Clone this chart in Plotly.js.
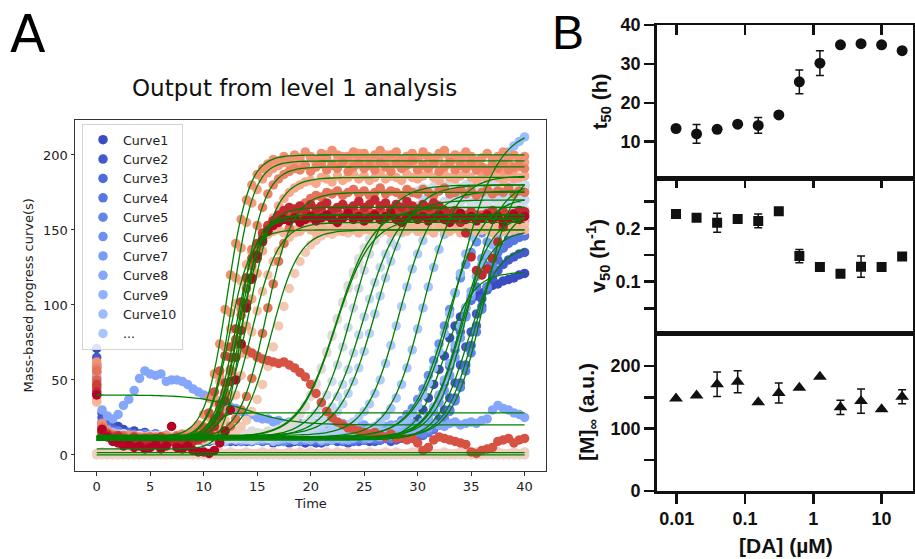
<!DOCTYPE html>
<html><head><meta charset="utf-8">
<script src="https://cdn.plot.ly/plotly-3.0.1.min.js"></script>
<style>html,body{margin:0;padding:0;background:#fff;} #chart{width:915px;height:559px;}</style>
</head><body><div id="chart"></div>
<script>
// ---------- Panel A data: observed progress curves (time in h) ----------
const timeH = [0,0.5,1,1.5,2,2.5,3,3.5,4,4.5,5,5.5,6,6.5,7,7.5,8,8.5,9,9.5,10,10.5,11,11.5,12,12.5,13,13.5,14,14.5,15,15.5,16,16.5,17,17.5,18,18.5,19,19.5,20,20.5,21,21.5,22,22.5,23,23.5,24,24.5,25,25.5,26,26.5,27,27.5,28,28.5,29,29.5,30,30.5,31,31.5,32,32.5,33,33.5,34,34.5,35,35.5,36,36.5,37,37.5,38,38.5,39,39.5,40];

const curve01 = [71,28,24,20,19,17,15,16,14,15, 13,14,12,13,12,11,13,12,11,12, 10,11,12,10,11,9,10,11,9,10, 11,9,10,8,9,10,8,9,10,8, 9,10,8,9,11,9,10,8,9,11, 10,9,11,10,12,13,12,15,17,20, 24,30,38,47,57,66,78,86,92,98, 104,106,108,111,113,114,116,117,118,120, 121];
const curve02 = [65,25,21,18,16,15,14,13,14,12, 13,11,12,13,11,12,10,11,12,10, 11,9,10,12,10,11,9,10,11,9, 10,12,10,9,11,10,8,10,9,11, 10,8,9,10,11,9,10,8,10,9, 11,10,9,10,11,9,10,12,11,13, 12,14,16,19,24,30,38,48,60,72, 82,94,104,112,118,123,127,130,132,134, 135];
const curve03 = [60,22,19,17,15,14,15,13,12,14, 12,13,11,12,10,11,13,12,10,11, 12,10,11,9,12,10,11,10,12,9, 11,10,12,11,9,10,11,12,10,11, 9,11,10,12,10,11,9,12,11,10, 12,11,10,12,11,13,12,11,13,12, 14,13,15,17,20,24,30,38,48,60, 73,86,99,110,121,130,138,144,149,153, 156];
const curve04 = [58,20,18,16,14,13,12,14,11,12, 13,11,10,12,11,9,10,12,11,10, 9,11,10,12,9,10,11,9,10,12, 10,9,11,10,12,9,11,10,9,10, 12,10,11,9,10,11,13,10,9,11, 10,12,11,10,13,12,14,13,15,16, 18,21,25,31,39,48,59,70,82,93, 103,112,120,126,131,135,138,141,143,145, 146];
const curve05 = [55,21,17,15,16,13,14,12,13,11, 12,14,11,13,10,12,11,13,10,12, 11,10,12,13,11,10,12,9,11,10, 12,11,10,9,11,12,10,11,13,10, 11,12,9,10,12,11,10,13,12,11, 10,12,11,13,12,11,12,14,13,12, 15,14,16,18,20,24,29,36,45,56, 68,82,97,112,126,139,150,160,168,175, 180];
const curve06 = [52,19,16,15,14,12,13,11,12,14, 11,12,10,13,11,12,10,11,13,12, 10,11,12,9,11,13,10,12,11,9, 10,12,11,13,10,9,11,12,10,11, 13,11,12,10,11,12,14,11,13,12, 14,13,15,14,16,18,20,23,27,31, 37,44,53,63,74,86,97,108,118,127, 135,142,148,153,157,160,163,165,167,168, 170];
const curve07 = [50,18,17,15,13,14,12,13,11,12, 10,12,11,13,12,10,11,12,10,13, 11,12,10,11,12,13,11,10,12,11, 13,10,12,11,10,12,11,13,12,10, 11,12,10,13,11,12,10,11,12,13, 11,12,14,13,12,14,13,15,17,16, 19,21,24,29,35,43,53,65,78,92, 106,119,131,142,151,159,165,170,174,177, 179];
const curve08 = [40,30,26,24,27,33,37,43,51,56, 54,53,54,49,50,50,49,47,44,42, 40,39,37,36,34,32,31,29,28,27, 25,24,24,22,23,21,22,20,21,20, 19,21,20,18,20,19,21,20,18,19, 20,18,19,21,19,20,18,19,20,21, 19,20,18,21,20,19,21,22,20,21, 22,21,23,24,30,33,31,30,28,27, 25];
const curve09 = [48,17,15,14,13,12,13,11,12,10, 12,11,13,10,11,12,10,11,9,12, 10,11,12,10,9,11,12,10,11,13, 10,12,11,9,10,12,11,10,12,11, 10,12,11,13,10,11,12,10,11,13, 12,11,13,12,14,13,12,15,14,17, 19,22,26,32,40,50,61,73,86,98, 109,119,127,134,140,145,149,152,155,157, 158];
const curve10 = [46,18,16,15,13,14,12,11,13,12, 10,11,13,12,10,11,12,13,11,10, 12,11,10,12,13,11,10,12,11,10, 12,13,11,10,12,11,13,10,12,11, 13,12,10,11,13,12,11,14,12,13, 15,14,13,16,15,17,19,21,24,28, 33,40,48,58,69,81,94,108,121,134, 146,157,167,176,184,191,197,202,206,209, 212];
const curve11 = [44,17,15,13,14,12,11,13,12,10, 11,12,10,13,11,12,10,11,12,10, 13,11,12,10,11,13,12,11,10,12, 11,13,12,10,11,12,13,11,12,14, 12,13,11,14,13,12,15,14,13,16, 15,17,19,22,26,31,38,47,58,70, 84,98,112,125,137,147,156,163,169,173, 176,178,180,181,183,182,184,183,185,184, 186];
const curve12 = [42,16,14,13,12,13,11,12,10,11, 13,12,11,10,12,11,13,10,12,11, 10,12,11,13,10,12,11,12,13,11, 12,11,13,12,14,13,12,15,14,13, 15,14,16,15,17,16,18,20,22,25, 29,34,41,50,61,73,86,99,112,124, 134,143,151,157,162,166,169,171,173,174, 175,173,176,174,175,177,174,176,175,177, 176];
const curve13 = [40,15,14,12,13,11,12,10,12,11, 13,10,11,12,10,13,11,12,10,11, 12,13,11,12,10,11,13,12,11,13, 12,14,13,12,15,14,13,16,15,17, 16,18,20,22,25,29,34,41,49,58, 69,81,94,106,118,129,139,148,155,161, 166,170,172,175,176,178,177,179,178,180, 179,181,178,180,182,179,181,180,182,181, 180];
const curve14 = [42,16,13,12,11,12,10,11,13,12, 10,11,12,13,11,10,12,11,13,12, 11,13,12,10,11,12,13,11,12,10, 12,13,11,13,12,14,13,15,14,16, 18,20,23,27,32,39,47,57,68,80, 92,104,115,125,134,142,149,154,158,161, 163,165,166,168,167,169,168,170,169,171, 168,170,172,169,171,170,168,171,170,172, 170];
const curve15 = [45,17,14,13,12,11,13,12,10,11, 12,11,13,10,12,11,10,12,13,11, 12,10,11,13,12,11,13,12,14,13, 12,14,13,15,14,16,15,17,19,21, 24,28,33,40,49,60,72,85,98,111, 123,134,143,151,158,163,167,170,173,175, 176,178,177,179,178,180,179,181,178,180, 182,179,181,180,182,179,181,180,178,181, 180];
const curve16 = [47,18,15,13,12,14,11,12,13,10, 11,12,10,13,11,12,10,11,12,13, 11,12,13,11,14,12,13,15,14,16, 15,14,16,15,17,19,21,24,28,33, 40,48,58,69,80,91,102,113,122,131, 138,144,149,153,156,159,161,162,164,163, 165,164,166,163,165,167,164,166,165,163, 166,164,165,167,164,166,165,163,166,165, 164];
const curve17 = [50,19,15,14,12,13,11,12,10,12, 11,13,12,10,11,12,13,11,10,12, 13,11,12,14,12,13,11,14,13,15, 14,13,15,14,16,18,20,23,27,32, 39,47,57,68,79,90,101,111,120,128, 135,140,144,148,150,152,154,155,157,156, 158,157,159,156,158,157,159,158,156,159, 157,158,160,157,159,158,156,159,157,158, 158];
const curve18 = [0,0,0,0,0,0,0,0,0,0, 0,0,0,0,0,0,0,0,0,0, 0,0,0,0,0,0,0,0,0,0, 0,0,0,0,0,0,0,0,0,0, 0,0,0,0,0,0,0,0,0,0, 0,0,0,0,0,0,0,0,0,0, 0,0,0,0,0,0,0,0,0,0, 0,0,0,0,0,0,0,0,0,0, 0];
const curve19 = [1,2,1,1,2,1,2,1,1,2, 1,1,2,1,2,1,1,2,1,2, 2,1,1,2,1,2,1,1,2,1, 1,2,1,2,1,1,2,1,2,1, 2,1,1,2,1,2,1,2,1,1, 1,2,1,1,2,1,2,1,1,2, 2,1,2,1,1,2,1,1,2,1, 1,2,1,2,1,2,1,1,2,1, 2];
const curve20 = [35,16,13,12,10,11,9,10,12,9, 10,11,9,12,10,11,9,10,11,12, 10,12,11,13,12,14,16,19,23,29, 37,47,59,72,86,99,111,121,129,135, 140,143,146,148,147,149,150,148,151,149, 150,152,149,151,150,148,152,150,149,151, 150,148,151,149,152,150,149,151,150,148, 151,149,150,152,148,150,151,149,150,152, 150];
const curve21 = [38,17,14,12,11,10,12,9,11,10, 9,11,10,12,9,10,11,9,12,10, 11,13,15,18,23,30,40,53,67,82, 96,109,120,129,136,141,145,148,150,152, 153,151,155,152,154,156,153,155,152,154, 156,153,155,154,152,156,154,153,155,157, 154,156,153,155,157,154,152,155,156,153, 155,157,154,156,153,155,157,154,156,155, 154];
const curve22 = [36,15,12,11,10,9,11,10,8,10, 9,11,10,8,9,11,10,12,11,14, 18,25,35,49,66,84,101,116,127,135, 141,145,147,149,150,148,151,150,149,152, 150,148,151,149,150,152,149,151,150,148, 151,150,149,152,150,148,151,149,150,152, 149,151,150,148,152,150,149,151,148,150, 152,149,151,150,148,151,149,152,150,151, 150];
const curve23 = [55,18,14,12,11,10,12,9,11,10, 12,9,10,11,9,12,10,11,9,10, 12,14,17,22,29,39,52,68,86,104, 121,136,148,158,166,171,175,178,180,182, 183,181,185,184,182,186,183,185,187,184, 186,183,185,188,184,186,185,183,187,185, 184,186,188,185,183,187,185,184,186,188, 185,183,186,184,187,185,183,186,184,185, 186];
const curve24 = [60,20,15,13,12,11,10,12,9,11, 10,12,9,11,10,12,11,13,12,15, 19,26,37,52,72,95,118,138,155,168, 177,184,188,191,193,195,194,197,196,193, 198,195,197,200,194,196,199,195,197,201, 196,198,194,197,200,195,198,196,199,194, 197,200,195,198,196,201,194,197,199,196, 193,190,188,191,195,192,189,194,190,192, 195];
const curve25 = [62,21,16,14,12,11,13,10,12,11, 10,12,11,13,10,12,14,13,16,20, 27,38,54,74,97,120,141,157,170,180, 187,191,194,197,196,199,197,200,198,202, 199,197,201,198,203,200,197,199,202,198, 201,197,200,203,198,200,202,197,199,201, 198,202,199,197,201,203,198,200,197,202, 199,196,198,201,197,199,202,198,200,197, 199];
const curve26 = [58,19,15,13,12,10,11,13,10,12, 11,9,12,10,11,13,10,12,11,13, 15,18,23,31,42,57,76,97,118,137, 153,165,174,180,184,187,189,191,190,193, 189,192,194,190,193,191,195,189,192,194, 191,193,190,195,192,189,194,191,193,196, 190,193,191,194,189,192,195,190,193,191, 194,190,192,189,193,191,194,190,192,193, 191];
const curve27 = [56,18,14,12,11,13,10,12,11,9, 11,10,12,9,11,10,12,11,10,12, 11,13,12,14,16,19,24,30,39,51, 65,81,98,114,129,141,151,158,164,168, 171,173,172,175,174,176,173,175,177,174, 176,173,175,178,174,176,175,173,177,175, 174,177,175,173,176,178,174,175,177,174, 176,173,175,177,174,176,175,178,174,176, 175];
const curve28 = [50,17,14,13,11,12,10,9,11,10, 12,10,9,11,10,8,11,9,10,12, 14,17,22,30,41,56,74,93,111,126, 138,146,152,156,158,160,159,161,158,162, 160,157,161,159,162,158,160,163,159,161, 158,162,160,157,161,159,163,160,158,161, 159,162,158,161,160,163,159,157,161,160, 162,158,160,161,157,160,162,159,161,158, 160];
const curve29 = [45,16,13,12,11,10,9,11,10,8, 10,9,11,8,10,12,9,10,11,13, 18,28,42,56,66,72,77,74,70,68, 66,64,63,62,61,62,60,58,55,52, 47,41,35,29,25,22,20,18,17,16, 15,14,15,13,12,14,11,12,10,11, 8,3,5,10,12,11,10,9,8,7, 2,1,3,4,5,9,10,11,8,10, 11];
const curve30 = [47,17,14,12,13,11,10,12,9,11, 10,8,12,9,11,10,8,9,11,10, 13,17,24,34,48,65,84,102,118,131, 141,148,153,156,158,160,157,161,159,162, 158,161,163,159,160,162,158,161,163,160, 162,159,161,164,158,160,162,159,163,161, 160,163,159,161,158,162,160,163,161,159, 162,160,158,161,163,159,162,160,158,161, 162];
const curve31 = [42,15,13,11,12,10,9,11,8,10, 9,11,8,10,9,7,10,8,9,11, 12,15,19,26,36,49,65,83,101,117, 131,142,150,156,160,163,165,164,166,163, 167,164,166,168,163,165,167,164,166,169, 165,167,170,166,168,164,167,165,169,166, 164,167,165,168,166,163,161,158,155,148, 132,123,120,124,131,142,152,158,161,163, 162];
const curve32 = [40,17,12,9,8,6,7,5,6,4, 5,7,4,6,19,5,4,6,3,2, 2,1,3,8,16,30,50,74,98,118, 133,143,149,153,155,157,156,158,155,157, 159,156,158,160,157,155,158,161,157,159, 156,158,160,157,159,161,157,155,158,160, 157,159,156,158,160,157,155,158,161,157, 159,156,158,160,157,159,155,158,160,157, 159];

const curveNames = ['Curve1','Curve2','Curve3','Curve4','Curve5','Curve6','Curve7','Curve8','Curve9','Curve10','...'];

// level-1 sigmoid fit parameters
const fitBase = [10,10,11,11,12,12,12,40,12,12,12,13,13,12,12,12,12,0,1.5,10,10,10,10,11,12,11,11,10,10,10,10,4];
const fitTop  = [122,140,165,150,192,172,182,20,160,218,186,176,180,170,180,165,158,0,1.5,150,155,150,185,196,200,192,175,160,28,160,165,157];
const fitT50  = [32.5,34.65,35.5,33.9,36.2,32.8,34.7,14.0,34.0,33.8,30.5,28.3,26.1,24.95,23.9,22.4,22.3,20,20,16.3,14.5,12.4,14.3,12.7,12.2,13.6,15.85,13.3,11.0,13.0,13.6,13.5];
const fitRate = [0.75,0.7,0.7,0.7,0.7,0.6,0.7,0.45,0.7,0.55,0.65,0.65,0.6,0.6,0.62,0.58,0.6,1,1,0.77,0.8,1.0,0.8,1.0,0.98,0.93,0.8,0.99,2.0,0.99,0.93,1.25];

// ---------- Panel B data ----------
const daConc = [0.009765625,0.01953125,0.0390625,0.078125,0.15625,0.3125,0.625,1.25,2.5,5,10,20];
const t50Vals = [13.4,12.0,13.2,14.5,14.2,16.9,25.4,30.2,34.9,35.2,34.9,33.4];
const t50Err  = [null,2.4,null,null,2.05,null,3.05,3.2,null,null,null,null];
const v50Vals = [0.227,0.220,0.2105,0.2175,0.214,0.232,0.148,0.1275,0.115,0.128,0.1275,0.147];
const v50Err  = [null,null,0.018,null,0.0128,null,0.0125,null,null,0.02,0.006,null];
const mInfVals = [148.3,153,171,175,142,157,165.3,183,134,144,131,151];
const mInfErr  = [null,null,19.5,17.6,null,16,null,null,11.5,19.5,null,11.2];

// ---------- styling ----------
const curves = [curve01,curve02,curve03,curve04,curve05,curve06,curve07,curve08,curve09,curve10,curve11,curve12,curve13,curve14,curve15,curve16,curve17,curve18,curve19,curve20,curve21,curve22,curve23,curve24,curve25,curve26,curve27,curve28,curve29,curve30,curve31,curve32];
const coolwarmStops = [[59,76,192],[68,90,204],[77,104,215],[87,117,225],[98,130,234],[108,142,241],[119,154,247],[130,165,251],[141,176,254],[152,185,255],[163,194,255],[174,201,253],[184,208,249],[194,213,244],[204,217,238],[213,219,230],[221,221,221],[229,216,209],[236,211,197],[241,204,184],[245,196,172],[247,187,160],[247,177,148],[247,166,137],[244,154,123],[241,141,112],[236,127,99],[229,112,88],[222,96,77],[213,80,66],[203,62,56],[192,40,47],[180,4,38]];
function coolwarm(p){
  const n = coolwarmStops.length - 1, x = p*n;
  const i = Math.min(Math.floor(x), n-1), f = x - i;
  const a = coolwarmStops[i], b = coolwarmStops[i+1];
  return 'rgb(' + [0,1,2].map(j => Math.round(a[j] + (b[j]-a[j])*f)).join(',') + ')';
}
const W = 915, H = 559;
const px = x => x / W, py = y => 1 - y / H;
const sigmoid = (t, i) => fitBase[i] + (fitTop[i] - fitBase[i]) / (1 + Math.exp(-fitRate[i] * (t - fitT50[i])));

const traces = [];
curves.forEach((c, i) => {
  const named = i < curveNames.length;
  const tr = {
    type: 'scatter', mode: 'markers', x: timeH, y: c, xaxis: 'x', yaxis: 'y',
    marker: {color: coolwarm(i / (curves.length - 1)), size: 9.5, line: {width: 0}},
    showlegend: named, hoverinfo: 'skip'
  };
  if (named) tr.name = curveNames[i];
  traces.push(tr);
});
curves.forEach((c, i) => {
  traces.push({
    type: 'scatter', mode: 'lines', x: timeH, y: timeH.map(t => sigmoid(t, i)),
    xaxis: 'x', yaxis: 'y', line: {color: '#008000', width: 1.3, shape: 'spline'},
    showlegend: false, hoverinfo: 'skip'
  });
});
const errStyle = {type: 'data', visible: true, color: '#111', thickness: 1.5, width: 4};
traces.push({type:'scatter', mode:'markers', x: daConc, y: t50Vals, xaxis:'x2', yaxis:'y2',
  error_y: Object.assign({array: t50Err}, errStyle), marker:{symbol:'circle', size:11, color:'#111'}, showlegend:false});
traces.push({type:'scatter', mode:'markers', x: daConc, y: v50Vals, xaxis:'x3', yaxis:'y3',
  error_y: Object.assign({array: v50Err}, errStyle), marker:{symbol:'square', size:10, color:'#111'}, showlegend:false});
traces.push({type:'scatter', mode:'markers', x: daConc, y: mInfVals, xaxis:'x4', yaxis:'y4',
  error_y: Object.assign({array: mInfErr}, errStyle), marker:{symbol:'triangle-up', size:12, color:'#111'}, showlegend:false});

const fontA = {family: 'DejaVu Sans', size: 13, color: '#222'};
const axA = {showline: true, linecolor: '#333', linewidth: 1, mirror: true, ticks: 'outside', ticklen: 3.5,
  tickwidth: 1, tickcolor: '#333', showgrid: false, zeroline: false, tickfont: fontA};
const bFont = {family: 'Liberation Sans, Arial, sans-serif', size: 18, color: '#111', weight: 700};
const bX = {type: 'log', domain: [px(656.7), px(913)], range: [-2.293, 1.46], tickvals: [0.01, 0.1, 1, 10],
  ticktext: ['0.01','0.1','1','10'], showgrid: false, zeroline: false, ticklen: 10, tickwidth: 2.5,
  tickcolor: '#111', linecolor: '#111', linewidth: 2.5, tickfont: bFont};
const bY = {showgrid: false, zeroline: false, ticklen: 10, tickwidth: 2.5, tickcolor: '#111',
  linecolor: '#111', linewidth: 2.5, tickfont: bFont};
const minorOut = v => ({tickvals: v, ticks: 'outside', ticklen: 10, tickwidth: 2.5, tickcolor: '#111', showgrid: false});
const dTop = [py(178.3), py(25)], dMid = [py(333.3), py(178.3)], dBot = [py(491), py(333.3)];
const rTop = [0.6, 40], rMid = [0.003, 0.294], rBot = [0, 252.5];
const tvTop = [10,20,30,40], tvMid = [0.05,0.1,0.15,0.2,0.25], tvBot = [0,50,100,150,200];

const layout = {
  width: W, height: H, margin: {l: 0, r: 0, t: 0, b: 0}, paper_bgcolor: '#fff', plot_bgcolor: 'rgba(0,0,0,0)',
  showlegend: true, hovermode: false,
  legend: {x: px(82), y: py(124), xanchor: 'left', yanchor: 'top', bgcolor: 'rgba(255,255,255,0.85)',
    bordercolor: '#d4d4d4', borderwidth: 1, font: {family: 'DejaVu Sans', size: 12.6, color: '#222'}, tracegroupgap: 0, itemwidth: 30},
  xaxis: Object.assign({}, axA, {domain: [px(75), px(546)], range: [-2.03, 42.0], tickvals: [0,5,10,15,20,25,30,35,40], anchor: 'y'}),
  yaxis: Object.assign({}, axA, {domain: [py(471), py(120)], range: [-10.7, 223.3], tickvals: [0,50,100,150,200], anchor: 'x'}),
  xaxis2: Object.assign({}, bX, {anchor: 'y2', side: 'top', ticks: 'inside', showticklabels: false, showline: true, mirror: true}),
  xaxis3: Object.assign({}, bX, {anchor: 'y3', side: 'top', ticks: 'inside', showticklabels: false, showline: true, mirror: true}),
  xaxis4: Object.assign({}, bX, {anchor: 'y4', side: 'bottom', ticks: 'outside', showticklabels: true, showline: true, mirror: true}),
  xaxis5: Object.assign({}, bX, {overlaying: 'x4', anchor: 'y4', side: 'top', ticks: 'inside', showticklabels: false, showline: false}),
  yaxis2: Object.assign({}, bY, {domain: dTop, range: rTop, anchor: 'x2', ticks: 'outside', tickvals: tvTop, showline: true, mirror: true}),
  yaxis3: Object.assign({}, bY, {domain: dMid, range: rMid, anchor: 'x3', ticks: 'outside', tickvals: [0.1, 0.2], minor: minorOut([0.05, 0.15, 0.25]), showline: true, mirror: true}),
  yaxis4: Object.assign({}, bY, {domain: dBot, range: rBot, anchor: 'x4', ticks: 'outside', tickvals: [0, 100, 200], minor: minorOut([50, 150]), showline: true, mirror: true}),
  yaxis5: Object.assign({}, bY, {overlaying: 'y2', side: 'right', anchor: 'x2', range: rTop, tickvals: tvTop, ticks: 'inside', showticklabels: false, showline: false}),
  yaxis6: Object.assign({}, bY, {overlaying: 'y3', side: 'right', anchor: 'x3', range: rMid, tickvals: tvMid, ticks: 'inside', showticklabels: false, showline: false}),
  yaxis7: Object.assign({}, bY, {overlaying: 'y4', side: 'right', anchor: 'x4', range: rBot, tickvals: tvBot, ticks: 'inside', showticklabels: false, showline: false}),
  annotations: [
    {text: 'A', x: px(28), y: py(34), xref: 'paper', yref: 'paper', showarrow: false, xanchor: 'center', yanchor: 'middle', font: {family: 'DejaVu Sans', size: 52, color: '#000'}},
    {text: 'B', x: px(568), y: py(32), xref: 'paper', yref: 'paper', showarrow: false, xanchor: 'center', yanchor: 'middle', font: {family: 'Liberation Sans, Arial', size: 48, color: '#000'}},
    {text: 'Output from level 1 analysis', x: px(294), y: py(88), xref: 'paper', yref: 'paper', showarrow: false, xanchor: 'center', yanchor: 'middle', font: {family: 'DejaVu Sans', size: 23, color: '#111'}},
    {text: 'Time', x: px(310), y: py(503), xref: 'paper', yref: 'paper', showarrow: false, xanchor: 'center', yanchor: 'middle', font: fontA},
    {text: 'Mass-based progress curve(s)', x: px(28), y: py(295.5), xref: 'paper', yref: 'paper', showarrow: false, textangle: -90, xanchor: 'center', yanchor: 'middle', font: fontA},
    {text: 't<sub>50</sub> (h)', x: px(600), y: py(101.5), xref: 'paper', yref: 'paper', showarrow: false, textangle: -90, xanchor: 'center', yanchor: 'middle', font: {family: 'Liberation Sans, Arial', size: 21, color: '#111', weight: 700}},
    {text: 'v<sub>50</sub> (h<sup>-1</sup>)', x: px(598), y: py(255.7), xref: 'paper', yref: 'paper', showarrow: false, textangle: -90, xanchor: 'center', yanchor: 'middle', font: {family: 'Liberation Sans, Arial', size: 21, color: '#111', weight: 700}},
    {text: '[M]<sub>∞</sub> (a.u.)', x: px(588), y: py(412), xref: 'paper', yref: 'paper', showarrow: false, textangle: -90, xanchor: 'center', yanchor: 'middle', font: {family: 'Liberation Sans, Arial', size: 21, color: '#111', weight: 700}},
    {text: '[DA] (µM)', x: px(786), y: py(545), xref: 'paper', yref: 'paper', showarrow: false, xanchor: 'center', yanchor: 'middle', font: {family: 'Liberation Sans, Arial', size: 21, color: '#111', weight: 700}}
  ]
};
Plotly.newPlot('chart', traces, layout, {displayModeBar: false, staticPlot: true});
</script></body></html>
